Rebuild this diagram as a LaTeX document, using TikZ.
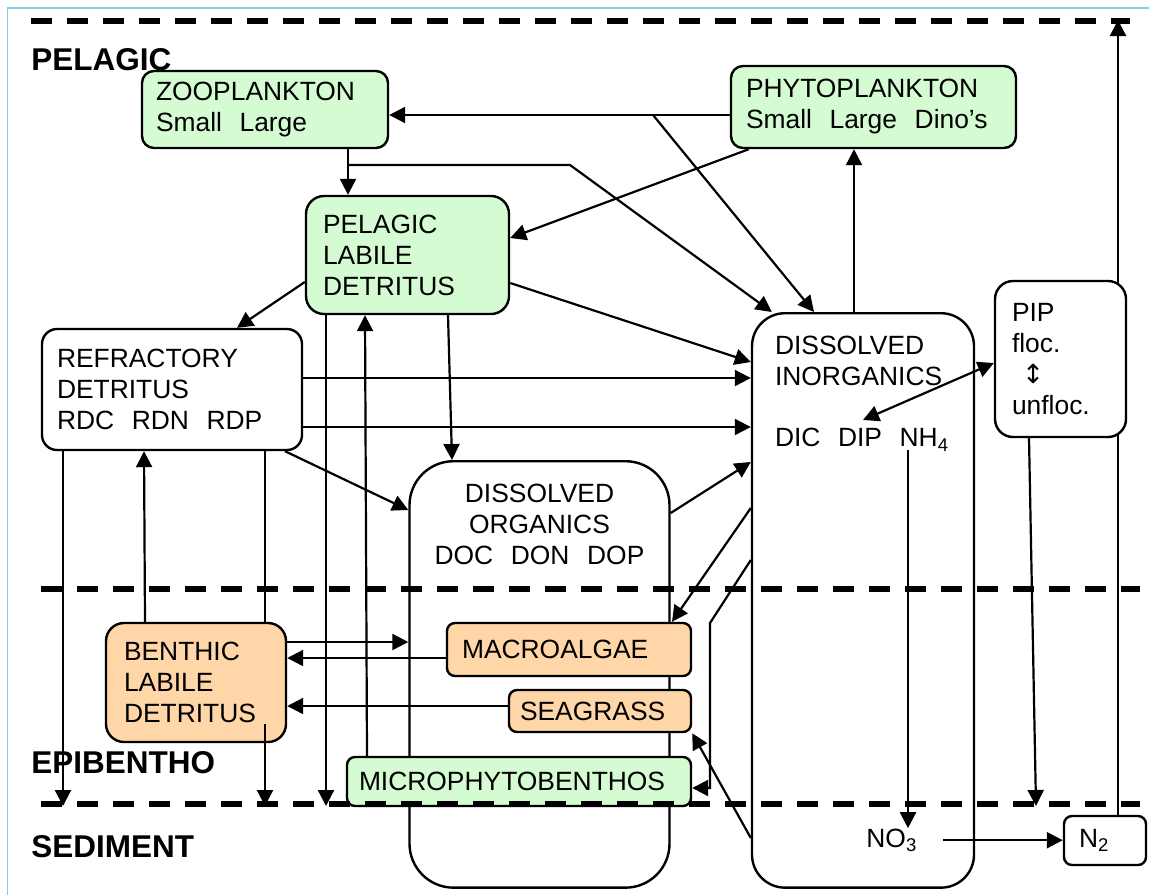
\documentclass[tikz,border=0pt]{standalone}
\usepackage{fontspec}
\setmainfont{Liberation Sans}
\newfontfamily\arrowfont{DejaVu Sans}
\usepackage{tikz}
\usetikzlibrary{arrows.meta,positioning,calc,backgrounds}
\definecolor{planktongreen}{RGB}{213,251,211}
\definecolor{benthicorange}{RGB}{255,214,168}
\definecolor{framecyan}{RGB}{135,206,228}
\newcommand{\boxfont}{\fontsize{13.2pt}{15.5pt}\selectfont}
\newcommand{\zonefont}{\fontsize{15.75pt}{18pt}\selectfont\bfseries}
\tikzset{
  pool/.style={draw, line width=1.2pt, rounded corners=6pt, font=\boxfont,
               align=left, inner ysep=0pt},
  pelagicpool/.style={pool, fill=planktongreen},
  benthicpool/.style={pool, fill=benthicorange},
  flow/.style={-{Triangle[length=8pt,width=8pt]}, line width=1.1pt},
  twoway/.style={{Triangle[length=8pt,width=8pt]}-{Triangle[length=8pt,width=8pt]}, line width=1.1pt},
  link/.style={line width=1.1pt},
  zoneline/.style={line width=2.8pt, dash pattern=on 10.5pt off 7.5pt},
  zonelabel/.style={font=\zonefont, anchor=base west, inner sep=0pt},
}

\begin{document}
\begin{tikzpicture}[x=0.5pt,y=-0.5pt]
  \useasboundingbox (0,0) rectangle (1149,895);
  \draw[framecyan, line width=0.8pt] (7.5,895) -- (7.5,8) -- (1149,8);
  % zones
  \node[zonelabel] (pelagic) at (31,70) {PELAGIC};
  \node[zonelabel] (epibentho) at (31,773) {EPIBENTHO};
  \node[zonelabel] (sediment) at (31,857) {SEDIMENT};
  % pelagic pools
  \node[pelagicpool, text width=109pt, inner xsep=7pt, minimum height=38.5pt] (zoo) at (265,109.5) {ZOOPLANKTON\\Small~~Large};
  \node[pelagicpool, text width=127.5pt, inner xsep=7.5pt, minimum height=41pt] (phyto) at (873.5,107) {PHYTOPLANKTON\\Small~~Large~~Dino’s};
  \node[pelagicpool, rounded corners=9pt, text width=84.5pt, inner xsep=8.5pt, minimum height=59pt] (pld) at (407.5,255) {PELAGIC\\LABILE\\DETRITUS};
  \node[pool, rounded corners=7.5pt, text width=115pt, inner xsep=7.5pt, minimum height=60.5pt] (rd) at (172,389.5) {REFRACTORY\\DETRITUS\\RDC~~RDN~~RDP};
  % dissolved pools
  \node[pool, rounded corners=22pt, anchor=north, align=center, text width=110pt, inner xsep=10pt, inner ysep=11.5pt] (dorg) at (539.5,460) {DISSOLVED\\ORGANICS\\DOC~~DON~~DOP\rule[-150pt]{0pt}{150pt}};
  \node[pool, rounded corners=16.5pt, anchor=north, text width=88pt, inner xsep=11.5pt, inner ysep=11.5pt] (din) at (863,312) {DISSOLVED\\INORGANICS\\[15pt]DIC~~DIP~~NH\textsubscript{4}\rule[-209pt]{0pt}{209pt}};
  \node[pool, fill=white, rounded corners=9pt, text width=48.5pt, inner xsep=8.5pt, minimum height=78pt] (pip) at (1060.5,359) {PIP\\floc.\\\hspace*{5pt}{\arrowfont ↕}\\unfloc.};
  % benthic pools
  \node[benthicpool, rounded corners=9pt, text width=72pt, inner xsep=9pt, minimum height=59.5pt] (bld) at (196,682.5) {BENTHIC\\LABILE\\DETRITUS};
  \node[benthicpool, rounded corners=4pt, text width=107pt, inner xsep=7.5pt, minimum height=26.5pt] (macro) at (569,649.5) {MACROALGAE};
  \node[benthicpool, rounded corners=4pt, text width=80pt, inner xsep=5.5pt, minimum height=21pt] (sea) at (600,711) {SEAGRASS};
  \node[pelagicpool, rounded corners=4pt, text width=160pt, inner xsep=6pt, minimum height=24.5pt] (micro) at (519,781.5) {MICROPHYTOBENTHOS};
  % sediment
  \node[font=\boxfont, anchor=base west, inner sep=0pt] (no3) at (866,847) {NO\textsubscript{3}};
  \node[pool, rounded corners=4pt, text width=26pt, inner xsep=7.5pt, minimum height=24.5pt] (n2) at (1105,840.5) {N\textsubscript{2}};

  % free ends
  \coordinate (split) at (653,115);
  \coordinate (ztap) at (348,165);
  \coordinate (zbend) at (570,165);
  \coordinate (sinkrd) at (63,806);
  \coordinate (sinkpld) at (326,806);
  \coordinate (sinkbld) at (265,806);
  \coordinate (sinkpip) at (1036,806);
  \coordinate (n2out) at (1118,20);
  \coordinate (wtop) at (710,623);
  \coordinate (wbot) at (710,788);
  \coordinate (dip) at (863,420);
  \coordinate (nh4) at (908,450);

  % pelagic fluxes
  \draw[flow] (phyto.west |- split) -- (zoo.east |- split);
  \draw[flow] (split) -- (din.north -| 814,0);
  \draw[flow] (zoo.south -| ztap) -- (pld.north -| ztap);
  \draw[flow] (ztap) -- (zbend) -- ($(din.north west)+(21,0)$);
  \draw[flow] ($(phyto.south west)+(19,0)$) -- (pld.east |- 0,238);
  \draw[flow] (din.north -| 854,0) -- (phyto.south -| 854,0);
  \draw[flow] (pld.west |- 0,282) -- (rd.north -| 237,0);
  \draw[flow] (pld.east |- 0,283) -- (din.west |- 0,362);
  \draw[flow] (rd.east |- 0,378) -- (din.west |- 0,378);
  \draw[flow] (rd.east |- 0,427) -- (din.west |- 0,427);
  \draw[flow] (rd.south -| 285,0) -- (dorg.west |- 0,510);
  \draw[flow] (pld.south -| 448,0) -- (dorg.north -| 452,0);
  \draw[flow] (dorg.east |- 0,513) -- (din.west |- 0,462);
  % settling
  \draw[flow] (rd.south -| sinkrd) -- (sinkrd);
  \draw[flow] (pld.south -| sinkpld) -- (sinkpld);
  \draw[flow] (bld.north -| 145,0) -- (rd.south -| 144,0);
  \draw[link] (rd.south -| sinkbld) -- (bld.north -| sinkbld);
  \draw[flow] ($(bld.south -| sinkbld)+(0,-19)$) -- (sinkbld);
  \draw[flow] (micro.north -| 367,0) -- (pld.south -| 365,0);
  % benthic fluxes
  \draw[flow] (bld.east |- 0,642) -- (dorg.west |- 0,642);
  \draw[flow] (macro.west |- 0,658) -- (bld.east |- 0,658);
  \draw[flow] (sea.west |- 0,706) -- (bld.east |- 0,706);
  \draw[flow] (din.west |- 0,508) -- (macro.north -| 672,0);
  \draw[flow] (din.west |- 0,560) -- (wtop) -- (wbot) -- (micro.east |- wbot);
  \draw[flow] (din.west |- 0,838) -- (sea.south east);
  % nutrients
  \draw[twoway] (pip.west |- 0,363) -- (dip);
  \draw[flow] (nh4) -- (no3.north -| nh4);
  \draw[flow] (pip.south -| 1029,0) -- (sinkpip);
  \draw[flow] (no3.east -| 943,0) -- (n2.west |- no3.east);
  \begin{scope}[on background layer]
    \draw[flow] (n2.north -| n2out) -- (n2out);
  \end{scope}

  % zone boundaries
  \draw[zoneline] (31,21) -- (1130,21);
  \draw[zoneline] (41,589) -- (1140,589);
  \draw[zoneline] (41,804) -- (1140,804);
\end{tikzpicture}
\end{document}
